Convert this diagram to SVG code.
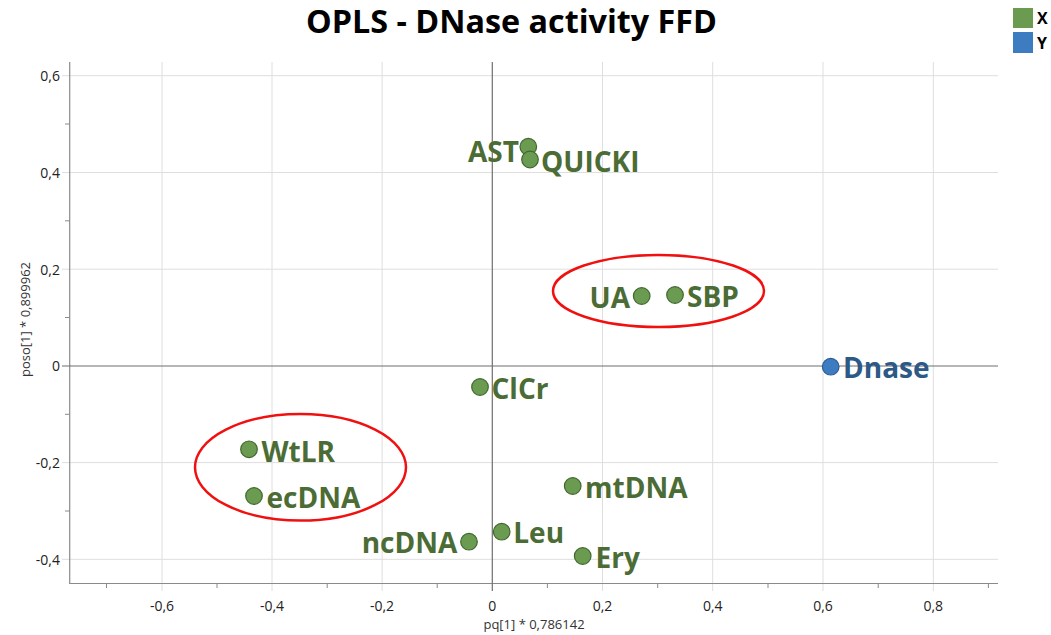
<svg xmlns="http://www.w3.org/2000/svg" width="1051" height="635" viewBox="0 0 1051 635">
<style>
.grid{stroke:#dedede;stroke-width:1;fill:none}
.zero{stroke:#6f6f6f;stroke-width:1.2;fill:none}
.axis{stroke:#8a8a8a;stroke-width:1.2;fill:none}
.tick{stroke:#8a8a8a;stroke-width:1}
.tl{font-family:"Open Sans","Noto Sans",sans-serif;font-size:14px;fill:#222}
.at{font-family:"Open Sans","Noto Sans",sans-serif;font-size:13px;fill:#333}
.title{font-family:"Open Sans","Noto Sans",sans-serif;font-size:32px;font-weight:bold;fill:#000}
.leg{font-family:"Open Sans","Noto Sans",sans-serif;font-size:16px;font-weight:bold;fill:#000}
.px{fill:#6a9b50;stroke:#41672e;stroke-width:1.2}
.py{fill:#3d7cc0;stroke:#2b5c94;stroke-width:1.2}
.lx{font-family:"Open Sans","Noto Sans",sans-serif;font-size:28px;font-weight:bold;fill:#4b6c34}
.ly{font-family:"Open Sans","Noto Sans",sans-serif;font-size:28px;font-weight:bold;fill:#2c5985}
.ring{fill:none;stroke:#f01010;stroke-width:2.5}
</style>
<rect width="1051" height="635" fill="#fff"/>
<text class="title" x="511.5" y="33" text-anchor="middle" textLength="411" lengthAdjust="spacingAndGlyphs">OPLS - DNase activity FFD</text>
<g id="legend">
<rect x="1013" y="8" width="20" height="20" fill="#6a9b50"/>
<text class="leg" x="1037" y="24">X</text>
<rect x="1013" y="32" width="20" height="21" fill="#3d7cc0"/>
<text class="leg" x="1037" y="49">Y</text>
</g>
<g id="grid">
<path class="grid" d="M162,62V591M272,62V591M382.1,62V591M602.5,62V591M712.7,62V591M823,62V591M933.3,62V591"/>
<path class="grid" d="M62,75.7H998M62,172.5H998M62,269.2H998M62,462.6H998M62,559.3H998"/>
</g>
<g id="axes">
<path class="axis" d="M69.7,62V583.5H998"/>
<path class="tick" d="M106.5,583.5V588M217,583.5V588M327.2,583.5V588M437.2,583.5V588M547.4,583.5V588M657.7,583.5V588M768,583.5V588M878.2,583.5V588M988.4,583.5V588"/>
<path class="tick" d="M65,124H69.7M65,220.8H69.7M65,317.5H69.7M65,414.3H69.7M65,511H69.7"/>
<path class="zero" d="M492.3,62V591M62,366H998"/>
</g>
<g id="ticklabels">
<text class="tl" x="60" y="81" text-anchor="end">0,6</text>
<text class="tl" x="60" y="178" text-anchor="end">0,4</text>
<text class="tl" x="60" y="274.5" text-anchor="end">0,2</text>
<text class="tl" x="60" y="371" text-anchor="end">0</text>
<text class="tl" x="60" y="468" text-anchor="end">-0,2</text>
<text class="tl" x="60" y="564.5" text-anchor="end">-0,4</text>
<text class="tl" x="162" y="611" text-anchor="middle">-0,6</text>
<text class="tl" x="272" y="611" text-anchor="middle">-0,4</text>
<text class="tl" x="382" y="611" text-anchor="middle">-0,2</text>
<text class="tl" x="492.3" y="611" text-anchor="middle">0</text>
<text class="tl" x="602.5" y="611" text-anchor="middle">0,2</text>
<text class="tl" x="712.7" y="611" text-anchor="middle">0,4</text>
<text class="tl" x="823" y="611" text-anchor="middle">0,6</text>
<text class="tl" x="933.3" y="611" text-anchor="middle">0,8</text>
<text class="at" x="534" y="628.5" text-anchor="middle">pq[1] * 0,786142</text>
<text class="at" transform="translate(30,319.5) rotate(-90)" text-anchor="middle">poso[1] * 0,899962</text>
</g>
<g id="rings">
<ellipse class="ring" cx="658.5" cy="291" rx="105.5" ry="36"/>
<ellipse class="ring" cx="300.5" cy="467.3" rx="105.5" ry="53.3"/>
</g>
<g id="AST"><circle class="px" cx="528.3" cy="146.7" r="8.3"/><text class="lx" x="519" y="162" text-anchor="end">AST</text></g>
<g id="QUICKI"><circle class="px" cx="530" cy="159.5" r="8.3"/><text class="lx" x="541" y="171.5">QUICKI</text></g>
<g id="UA"><circle class="px" cx="641.7" cy="296" r="8.3"/><text class="lx" x="630" y="308" text-anchor="end">UA</text></g>
<g id="SBP"><circle class="px" cx="675" cy="295" r="8.3"/><text class="lx" x="687" y="307">SBP</text></g>
<g id="Dnase"><circle class="py" cx="830.7" cy="366.7" r="8.3"/><text class="ly" x="843" y="378">Dnase</text></g>
<g id="ClCr"><circle class="px" cx="480" cy="387" r="8.3"/><text class="lx" x="491.5" y="398.5">ClCr</text></g>
<g id="WtLR"><circle class="px" cx="249" cy="449.3" r="8.3"/><text class="lx" x="261.5" y="461.5">WtLR</text></g>
<g id="ecDNA"><circle class="px" cx="254" cy="496" r="8.3"/><text class="lx" x="266.5" y="507.5">ecDNA</text></g>
<g id="mtDNA"><circle class="px" cx="572.7" cy="486" r="8.3"/><text class="lx" x="585" y="497.5">mtDNA</text></g>
<g id="ncDNA"><circle class="px" cx="469" cy="541.7" r="8.3"/><text class="lx" x="457.3" y="553" text-anchor="end">ncDNA</text></g>
<g id="Leu"><circle class="px" cx="501.7" cy="531.7" r="8.3"/><text class="lx" x="513.3" y="543.3">Leu</text></g>
<g id="Ery"><circle class="px" cx="582.7" cy="556" r="8.3"/><text class="lx" x="595.5" y="567.5">Ery</text></g>
</svg>
